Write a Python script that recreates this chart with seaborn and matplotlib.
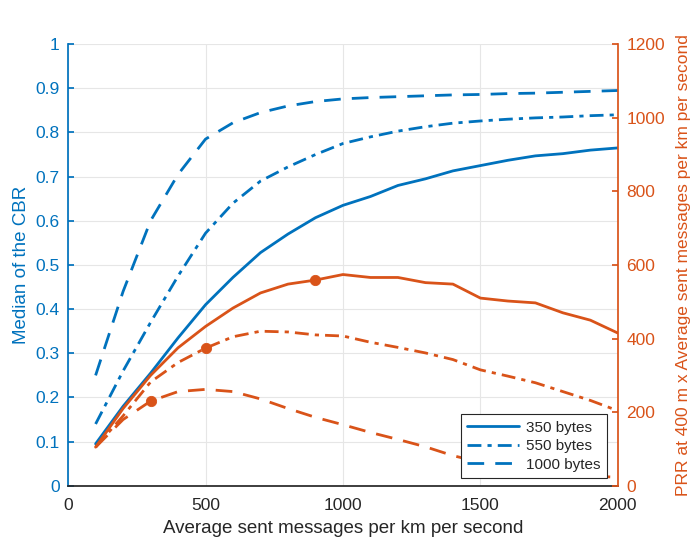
import numpy as np
import pandas as pd
import matplotlib
matplotlib.use("Agg")
import matplotlib.pyplot as plt
import seaborn as sns
from matplotlib.lines import Line2D

sns.set_theme(style="white")
plt.rcParams["font.family"] = ["Liberation Sans", "DejaVu Sans"]

# Average sent messages per km per second
msgs = [100, 200, 300, 400, 500, 600, 700, 800, 900, 1000,
        1100, 1200, 1300, 1400, 1500, 1600, 1700, 1800, 1900, 2000]

# Median CBR per packet size (left axis)
cbr_350 = [0.095, 0.18, 0.255, 0.335, 0.41, 0.472, 0.528, 0.57, 0.607, 0.635,
           0.655, 0.68, 0.695, 0.713, 0.725, 0.737, 0.747, 0.752, 0.76, 0.765]
cbr_550 = [0.14, 0.26, 0.37, 0.475, 0.572, 0.64, 0.69, 0.722, 0.75, 0.775,
           0.79, 0.803, 0.813, 0.821, 0.826, 0.83, 0.833, 0.835, 0.838, 0.84]
cbr_1000 = [0.25, 0.44, 0.6, 0.705, 0.785, 0.822, 0.845, 0.86, 0.87, 0.876,
            0.879, 0.881, 0.883, 0.885, 0.886, 0.888, 0.889, 0.891, 0.893, 0.895]

# PRR at 400 m x average sent messages (right axis)
prr_350 = [105, 210, 300, 375, 433, 483, 524, 548, 559, 574,
           566, 566, 552, 548, 510, 502, 497, 470, 450, 415]
prr_550 = [105, 190, 282, 335, 374, 405, 420, 418, 410, 407,
           390, 376, 361, 343, 315, 298, 280, 256, 232, 204]
prr_1000 = [105, 180, 230, 256, 262, 256, 236, 210, 186, 166,
            145, 126, 106, 82, 64, 52, 40, 33, 27, 23]

sizes = ["350 bytes", "550 bytes", "1000 bytes"]
# Highlighted operating points (messages per km per second) per packet size
marked_msgs = [900, 500, 300]

BLUE = "#0072BD"
ORANGE = "#D95319"
LW = 2.0
styles = {"350 bytes": "-", "550 bytes": (0, (5, 2.2, 1.5, 2.2)), "1000 bytes": (0, (6, 4))}

cbr = pd.DataFrame({"msgs": msgs * 3,
                    "value": cbr_350 + cbr_550 + cbr_1000,
                    "size": np.repeat(sizes, len(msgs))})
prr = pd.DataFrame({"msgs": msgs * 3,
                    "value": prr_350 + prr_550 + prr_1000,
                    "size": np.repeat(sizes, len(msgs))})

fig = plt.figure(figsize=(6.95, 5.38), dpi=100)
ax = fig.add_axes([0.098, 0.097, 0.791, 0.821])
ax2 = ax.twinx()

for s in sizes:
    sub = cbr[cbr["size"] == s]
    sns.lineplot(data=sub, x="msgs", y="value", ax=ax, color=BLUE,
                 linewidth=LW, linestyle=styles[s], legend=False)
    sub2 = prr[prr["size"] == s]
    sns.lineplot(data=sub2, x="msgs", y="value", ax=ax2, color=ORANGE,
                 linewidth=LW, linestyle=styles[s], legend=False)

for s, m in zip(sizes, marked_msgs):
    sub2 = prr[(prr["size"] == s) & (prr["msgs"] == m)]
    sns.scatterplot(data=sub2, x="msgs", y="value", ax=ax2, color=ORANGE,
                    s=55, edgecolor=ORANGE, zorder=5, legend=False)

ax.set_xlim(0, 2000)
ax.set_ylim(0, 1)
ax2.set_ylim(0, 1200)
ax.set_xticks([0, 500, 1000, 1500, 2000])
ax.set_yticks(np.arange(0, 1.01, 0.1))
ax.set_yticklabels(["0", "0.1", "0.2", "0.3", "0.4", "0.5", "0.6", "0.7", "0.8", "0.9", "1"])
ax2.set_yticks([0, 200, 400, 600, 800, 1000, 1200])

ax.grid(True, color="#e6e6e6", linewidth=0.8)
ax.set_axisbelow(True)

for a in (ax, ax2):
    a.spines["top"].set_visible(False)
ax.spines["left"].set_color(BLUE)
ax.spines["right"].set_visible(False)
ax2.spines["left"].set_visible(False)
ax2.spines["right"].set_color(ORANGE)
ax.spines["bottom"].set_color("#262626")
ax2.spines["bottom"].set_visible(False)

ax.tick_params(axis="y", colors=BLUE, direction="in", length=4, labelsize=12.5, pad=6)
ax.tick_params(axis="x", colors="#262626", direction="in", length=4, labelsize=12.5, pad=9)
ax2.tick_params(axis="y", colors=ORANGE, direction="in", length=4, labelsize=12.5, pad=6)

ax.set_xlabel("Average sent messages per km per second", fontsize=13.5, color="#262626", labelpad=5)
ax.set_ylabel("Median of the CBR", fontsize=13.5, color=BLUE, labelpad=4)
ax2.set_ylabel("PRR at 400 m x Average sent messages per km per second",
               fontsize=12.5, color=ORANGE, labelpad=8)

handles = [Line2D([], [], color=BLUE, linewidth=LW, linestyle=styles[s]) for s in sizes]
leg = ax2.legend(handles, sizes, loc="lower right", bbox_to_anchor=(0.98, 0.018),
                 borderaxespad=0, fontsize=11, frameon=True, fancybox=False, framealpha=1,
                 edgecolor="#262626", handlelength=3.4, borderpad=0.4,
                 labelspacing=0.3, handletextpad=0.5)
leg.get_frame().set_linewidth(0.8)

fig.savefig("out.png", dpi=100)
